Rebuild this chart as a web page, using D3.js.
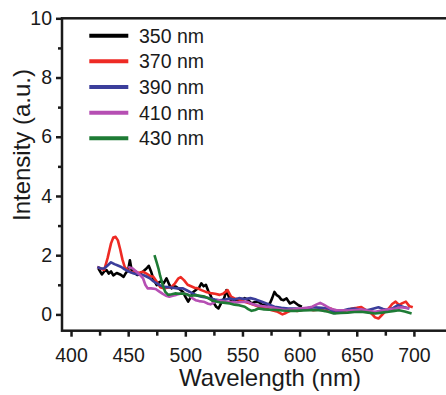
<!DOCTYPE html>
<html>
<head>
<meta charset="utf-8">
<script src="https://cdn.jsdelivr.net/npm/d3@7"></script>
<style>
  html, body { margin: 0; padding: 0; background: #fff; }
  svg { display: block; overflow: hidden; font-family: "Liberation Sans", Arial, sans-serif; }
</style>
</head>
<body>
<div id="chart"></div>
<script>
// wavelength (nm), intensity (a.u.)
const s350 = [[424,1.55],[427,1.35],[429,1.45],[431,1.5],[433,1.38],[435,1.45],[437,1.32],[440,1.4],[443,1.35],[446,1.27],[448,1.4],[450,1.5],[451.5,1.83],[453,1.5],[455,1.42],[458,1.33],[461,1.4],[463,1.45],[466,1.55],[468,1.64],[470,1.45],[472,1.2],[475,0.99],[477,1.08],[479,1.12],[481,1.05],[483.5,1.22],[486,1.0],[488,0.88],[490,0.95],[492,0.93],[495,0.85],[498,0.76],[500,0.6],[502.5,0.43],[505,0.6],[507,0.76],[510,0.85],[512,0.9],[514,1.05],[516,0.95],[518,1.0],[520,0.8],[522,0.65],[524,0.45],[527,0.26],[529,0.2],[532,0.43],[534,0.55],[536,0.82],[538,0.6],[541,0.4],[544,0.5],[548,0.45],[552,0.55],[555,0.48],[558,0.37],[561,0.42],[564,0.43],[567,0.33],[570,0.31],[574,0.37],[576,0.55],[578,0.76],[580,0.65],[582,0.6],[584,0.5],[586,0.48],[588.6,0.54],[591.5,0.37],[595,0.43],[599,0.31],[602,0.26]];
const s370 = [[423,1.6],[426,1.55],[429,1.5],[432,1.9],[435,2.4],[437,2.6],[439,2.62],[441,2.5],[443,2.2],[445,1.85],[447,1.6],[450,1.48],[453,1.42],[456,1.46],[459,1.4],[463,1.44],[466,1.38],[469,1.3],[472,1.27],[475,1.1],[478,0.92],[481,0.88],[484,0.9],[488,0.93],[491,1.05],[494,1.22],[496,1.26],[499,1.15],[502,1.0],[505,0.95],[508,0.9],[511,0.88],[514,0.82],[518,0.76],[522,0.72],[526,0.7],[530,0.66],[533,0.7],[537,0.82],[540,0.6],[543,0.54],[547,0.5],[552,0.43],[556,0.38],[561,0.31],[565,0.25],[570,0.2],[575,0.15],[580,0.1],[585,0.0],[588,0.05],[593,0.15],[598,0.12],[602,0.15],[607,0.2],[612,0.14],[617,0.17],[622,0.12],[627,0.2],[632,0.1],[637,0.09],[642,0.15],[646,0.2],[650,0.22],[654,0.25],[658,0.15],[663,0.03],[666,-0.1],[669,-0.14],[672,-0.02],[675,0.1],[678,0.2],[681,0.35],[684,0.43],[687,0.32],[690,0.38],[693,0.43],[696,0.28],[699,0.24]];
const s390 = [[423,1.6],[426,1.55],[429,1.55],[432,1.65],[435,1.76],[438,1.7],[441,1.65],[444,1.6],[447,1.52],[451,1.44],[455,1.38],[459,1.35],[463,1.33],[466,1.28],[469,1.22],[472,1.12],[475,1.05],[478,0.98],[481,0.93],[485,0.92],[489,0.9],[493,0.88],[498,0.88],[502,0.8],[506,0.72],[510,0.64],[514,0.6],[518,0.57],[522,0.54],[526,0.5],[530,0.48],[535,0.5],[539,0.54],[543,0.5],[547,0.55],[552,0.52],[557,0.55],[562,0.5],[567,0.43],[572,0.35],[578,0.26],[584,0.22],[590,0.2],[596,0.2],[602,0.18],[608,0.22],[613,0.24],[619,0.22],[625,0.2],[631,0.05],[637,0.12],[643,0.18],[648,0.2],[654,0.15],[660,0.15],[665,0.2],[669,0.24],[673,0.18],[677,0.15],[682,0.22],[686,0.31],[691,0.25],[696,0.2]];
const s410 = [[450,1.6],[454,1.55],[457,1.45],[460,1.35],[463,1.22],[465,1.0],[467,0.88],[470,0.88],[474,0.86],[477,0.78],[480,0.7],[483,0.63],[486,0.6],[489,0.63],[492,0.66],[496,0.71],[500,0.7],[503,0.66],[506,0.55],[509,0.48],[512,0.45],[516,0.43],[520,0.36],[522,0.34],[525,0.4],[529,0.48],[533,0.44],[537,0.43],[541,0.42],[545,0.4],[549,0.42],[554,0.43],[558,0.36],[562,0.31],[567,0.28],[572,0.26],[578,0.22],[583,0.17],[588,0.15],[594,0.17],[600,0.2],[606,0.22],[611,0.26],[615,0.34],[618,0.39],[621,0.33],[624,0.26],[628,0.18],[632,0.15],[637,0.14],[643,0.13],[649,0.15],[654,0.17],[660,0.12],[666,0.09],[672,0.13],[678,0.17],[684,0.2],[689,0.24],[696,0.2]];
const s430 = [[473,2.0],[475,1.75],[476.5,1.55],[478,1.3],[479.5,1.1],[481,0.9],[482.5,0.76],[485,0.66],[488,0.68],[491,0.71],[495,0.7],[498,0.71],[501,0.68],[504,0.63],[507,0.64],[510,0.65],[514,0.62],[517,0.6],[520,0.55],[523,0.48],[527,0.44],[530,0.41],[535,0.39],[539,0.37],[543,0.33],[547,0.31],[552,0.26],[555,0.18],[558,0.12],[561,0.15],[564,0.2],[569,0.17],[574,0.16],[579,0.15],[585,0.13],[591,0.12],[597,0.12],[603,0.13],[609,0.14],[614,0.15],[619,0.13],[625,0.09],[630,0.03],[636,0.05],[642,0.06],[648,0.08],[654,0.09],[660,0.06],[666,0.03],[672,0.06],[678,0.09],[683,0.12],[687,0.14],[692,0.1],[698,0.03]];

const seriesNames = ['350 nm', '370 nm', '390 nm', '410 nm', '430 nm'];
const seriesData = [s350, s370, s390, s410, s430];
const seriesColors = ['#000000', '#ee2a24', '#3b3e9b', '#b64fb3', '#1e7b35'];

const xTicks = [400, 450, 500, 550, 600, 650, 700];
const xMinor = [425, 475, 525, 575, 625, 675];
const yTicks = [0, 2, 4, 6, 8, 10];
const yMinor = [1, 3, 5, 7, 9];

const W = 446, H = 395;
const plotLeft = 62, plotTop = 18.3, plotBottom = 330.7;

const svg = d3.select('#chart').append('svg')
  .attr('width', W)
  .attr('height', H);

const x = d3.scaleLinear().domain([392.1, 730]).range([plotLeft, plotLeft + 337.9 * 1.1429]);
const y = d3.scaleLinear().domain([-0.55, 10]).range([plotBottom, plotTop]);

// frame (right edge falls outside the picture)
svg.append('rect')
  .attr('x', plotLeft).attr('y', plotTop)
  .attr('width', x(730) - plotLeft + 20)
  .attr('height', plotBottom - plotTop)
  .attr('fill', 'none')
  .attr('stroke', '#1a1a1a')
  .attr('stroke-width', 2.5);

const tickFont = 19.5;

svg.append('g')
  .attr('transform', `translate(0,${plotBottom})`)
  .call(d3.axisBottom(x).tickValues(xTicks).tickSize(6).tickPadding(11).tickFormat(d3.format('d')));
svg.append('g')
  .attr('transform', `translate(0,${plotBottom})`)
  .call(d3.axisBottom(x).tickValues(xMinor).tickSize(5).tickFormat(''));

svg.append('g')
  .attr('transform', `translate(${plotLeft},0)`)
  .call(d3.axisLeft(y).tickValues(yTicks).tickSize(6).tickPadding(4));
svg.append('g')
  .attr('transform', `translate(${plotLeft},0)`)
  .call(d3.axisLeft(y).tickValues(yMinor).tickSize(4).tickFormat(''));

svg.selectAll('.domain').remove();
svg.selectAll('.tick line').attr('stroke', '#1a1a1a').attr('stroke-width', 2.5);
svg.selectAll('.tick text')
  .attr('fill', '#1a1a1a')
  .style('font-size', tickFont + 'px')
  .style('font-family', '"Liberation Sans", Arial, sans-serif');

// data lines
const line = d3.line()
  .x(d => x(d[0]))
  .y(d => y(d[1]));

svg.append('g').selectAll('path')
  .data(seriesData)
  .enter().append('path')
  .attr('d', line)
  .attr('fill', 'none')
  .attr('stroke', (d, i) => seriesColors[i])
  .attr('stroke-width', 2.6)
  .attr('stroke-linejoin', 'round');

// legend
const legend = svg.append('g');
seriesNames.forEach((name, i) => {
  const ly = 35.7 + i * 25.65;
  legend.append('line')
    .attr('x1', 89.3).attr('x2', 128.3)
    .attr('y1', ly).attr('y2', ly)
    .attr('stroke', seriesColors[i])
    .attr('stroke-width', 4);
  legend.append('text')
    .attr('x', 139)
    .attr('y', ly)
    .attr('dy', '0.36em')
    .attr('fill', '#1a1a1a')
    .style('font-size', tickFont + 'px')
    .text(name);
});

// axis titles
svg.append('text')
  .attr('x', 270).attr('y', 386)
  .attr('text-anchor', 'middle')
  .attr('fill', '#1a1a1a')
  .style('font-size', '24px')
  .text('Wavelength (nm)');

svg.append('text')
  .attr('transform', 'translate(30,145) rotate(-90)')
  .attr('text-anchor', 'middle')
  .attr('fill', '#1a1a1a')
  .style('font-size', '24px')
  .text('Intensity (a.u.)');
</script>
</body>
</html>
